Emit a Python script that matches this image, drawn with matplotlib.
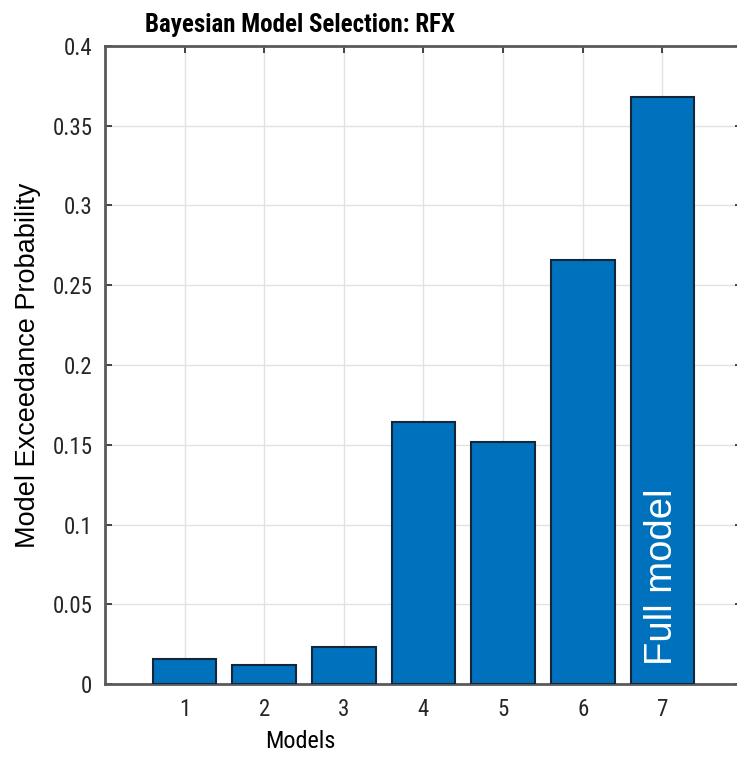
import matplotlib.pyplot as plt
import numpy as np

models = [1, 2, 3, 4, 5, 6, 7]
exceedance = [0.0155, 0.0118, 0.0235, 0.164, 0.152, 0.266, 0.368]
ytick_labels = ['0', '0.05', '0.1', '0.15', '0.2', '0.25', '0.3', '0.35', '0.4']

plt.rcParams['font.family'] = ['Roboto Condensed', 'Liberation Sans', 'DejaVu Sans']

fig = plt.figure(figsize=(7.37, 7.61), dpi=100)
W, H = 737, 761
# axes runs a bit past the right edge of the picture, like the cropped original
ax = fig.add_axes([105 / W, (H - 684) / H, (742 - 105) / W, (684 - 46) / H])

ax.bar(models, exceedance, width=0.8, color='#0072BD', edgecolor='#14263a', linewidth=1.5, zorder=3)

ax.set_xlim(0, 8)
ax.set_ylim(0, 0.4)
ax.set_xticks(models)
ax.set_yticks(np.linspace(0, 0.4, 9))
ax.set_yticklabels(ytick_labels)
ax.tick_params(direction='in', length=5, width=1.2, labelsize=16.5, colors='#262626',
               top=True, right=True)
ax.tick_params(axis='x', pad=10)
ax.tick_params(axis='y', pad=9)
ax.grid(True, color='#e2e2e2', linewidth=1, zorder=0)
for s in ax.spines.values():
    s.set_color('#5a5a5a')
    s.set_linewidth(2)

xc = (300 - 105) / (742 - 105)
ax.set_title('Bayesian Model Selection: RFX', fontsize=18, fontweight='bold', x=xc, pad=10)
ax.set_xlabel('Models', fontsize=17.5)
ax.xaxis.set_label_coords(xc, -0.072)
ax.set_ylabel('Model Exceedance Probability', fontsize=19.5,
              family=['Liberation Sans', 'DejaVu Sans'], labelpad=8)

ax.text(7, 0.012, 'Full model', rotation=90, color='white', fontsize=27.5,
        family=['Liberation Sans', 'DejaVu Sans'], ha='center', va='bottom', zorder=4)

fig.savefig('out.png', dpi=100)
